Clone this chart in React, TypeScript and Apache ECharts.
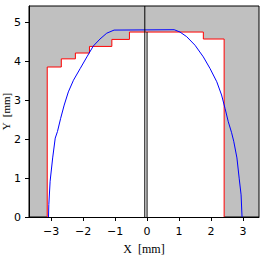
import React, { useEffect, useRef } from "react";
import * as echarts from "echarts";

// Step profile (red): edges in mm and heights in mm
const stepEdges = [-3.12, -2.68, -2.24, -1.8, -1.1, -0.55, 1.76, 2.41];
const stepHeights = [3.86, 4.07, 4.22, 4.39, 4.57, 4.76, 4.58];

// Blue curve points
const curveX = [
  -3.08, -3.07, -3.03, -2.95, -2.87, -2.8, -2.7, -2.59, -2.46, -2.3, -2.09, -1.88, -1.68,
  -1.47, -1.26, -1.03, 0.85, 1.03, 1.24, 1.5, 1.76, 1.97, 2.18, 2.33, 2.44, 2.54, 2.64,
  2.71, 2.81, 2.88, 2.94, 2.97,
];
const curveY = [
  0, 0.32, 0.92, 1.52, 2.03, 2.2, 2.54, 2.88, 3.22, 3.52, 3.82, 4.12, 4.4, 4.58, 4.73,
  4.81, 4.82, 4.76, 4.64, 4.42, 4.12, 3.82, 3.48, 3.14, 2.79, 2.45, 2.18, 1.95, 1.52, 1.0,
  0.57, 0,
];

// Vertical black markers
const markerX = [-0.07, 0.0];
const markerTop = [5.43, 4.76];

const xTicks = [-3, -2, -1, 0, 1, 2, 3];
const yTicks = [0, 1, 2, 3, 4, 5];
const xRange = [-3.69, 3.5];
const yRange = [0, 5.43];

export default function App() {
  const ref = useRef<HTMLDivElement>(null);
  useEffect(() => {
    if (!ref.current) return;
    const chart = echarts.init(ref.current, undefined, { renderer: "svg" });

    const outline: number[][] = [];
    outline.push([stepEdges[0], 0]);
    for (let i = 0; i < stepHeights.length; i++) {
      outline.push([stepEdges[i], stepHeights[i]]);
      outline.push([stepEdges[i + 1], stepHeights[i]]);
    }
    outline.push([stepEdges[stepEdges.length - 1], 0]);

    const curve = curveX.map((x, i) => [x, curveY[i]]);
    const fmt = (v: number) => String(v).replace("-", "\u2212");
    const labelStyle = { color: "#000", fontFamily: "DejaVu Sans", fontSize: 11 };

    chart.setOption({
      animation: false,
      grid: {
        left: 29,
        right: 6,
        top: 6,
        bottom: 38,
        outerBoundsMode: "none",
        containLabel: false,
        show: true,
        backgroundColor: "#c0c0c0",
        borderColor: "#000",
        borderWidth: 1,
      },
      xAxis: {
        type: "value",
        min: xRange[0],
        max: xRange[1],
        name: "X  [mm]",
        nameLocation: "middle",
        nameGap: 26,
        nameMoveOverlap: false,
        nameTextStyle: { color: "#000", fontFamily: "Liberation Serif", fontSize: 12 },
        axisLine: { show: true, onZero: false, lineStyle: { color: "#000" } },
        axisTick: { show: true, length: 4, customValues: xTicks, lineStyle: { color: "#000" } },
        axisLabel: { ...labelStyle, margin: 9, customValues: xTicks, formatter: fmt },
        splitLine: { show: false },
      },
      yAxis: {
        type: "value",
        min: yRange[0],
        max: yRange[1],
        name: "Y  [mm]",
        nameLocation: "middle",
        nameGap: 18,
        nameMoveOverlap: false,
        nameTextStyle: { color: "#000", fontFamily: "Liberation Serif", fontSize: 11 },
        axisLine: { show: true, onZero: false, lineStyle: { color: "#000" } },
        axisTick: { show: true, length: 4, customValues: yTicks, lineStyle: { color: "#000" } },
        axisLabel: { ...labelStyle, margin: 8, customValues: yTicks, formatter: fmt },
        splitLine: { show: false },
      },
      series: [
        {
          type: "line",
          data: outline,
          symbol: "none",
          lineStyle: { color: "#ff0000", width: 1 },
          areaStyle: { color: "#ffffff", opacity: 1 },
          z: 2,
        },
        {
          type: "line",
          data: curve,
          symbol: "none",
          lineStyle: { color: "#0000ff", width: 1 },
          z: 3,
        },
        ...markerX.map((x, i) => ({
          type: "line",
          data: [
            [x, 0],
            [x, markerTop[i]],
          ],
          symbol: "none",
          lineStyle: { color: "#000", width: 1 },
          z: 4,
        })),
      ],
    });
    return () => chart.dispose();
  }, []);
  return (
    <div
      ref={ref}
      style={{ position: "fixed", left: 0, top: 0, width: 265, height: 255, background: "#fff" }}
    />
  );
}
